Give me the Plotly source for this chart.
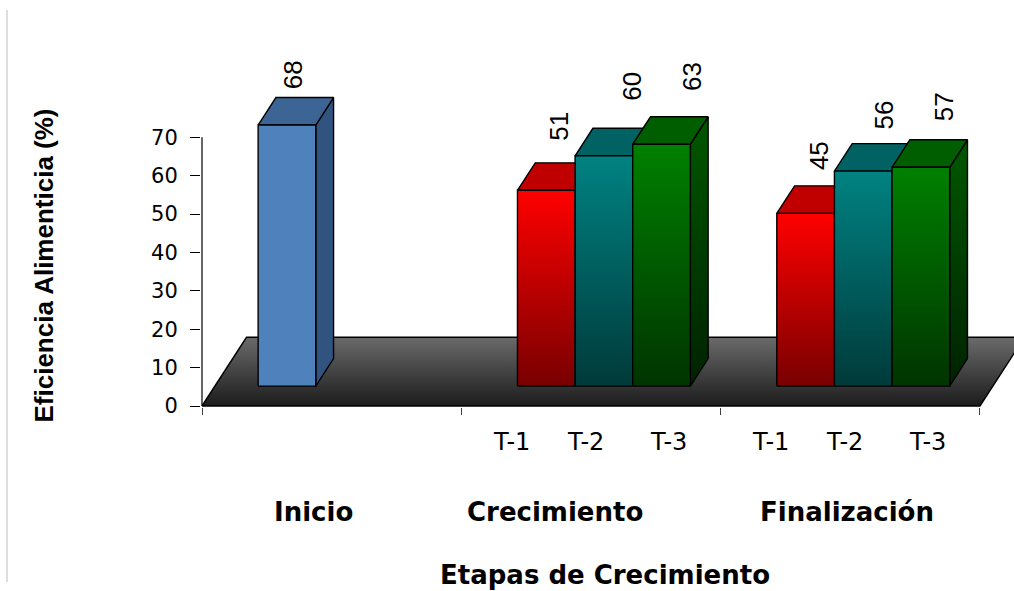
import plotly.graph_objects as go

# ---------------- data ----------------
categories = ["Inicio", "Crecimiento", "Finalización"]
series_names = ["T-1", "T-2", "T-3"]
t1_values = [68, 51, 45]
t2_values = [None, 60, 56]
t3_values = [None, 63, 57]
y_ticks = [0, 10, 20, 30, 40, 50, 60, 70]
x_title = "Etapas de Crecimiento"
y_title = "Eficiencia Alimenticia (%)"

# ---------------- geometry / styles ----------------
W, H = 1014, 591
L, B = 201, 184
PX_X = 259.33          # pixels per category unit
PX_Y = 3.8386          # pixels per value unit
DEPTH_X = 44.5 / PX_X  # floor depth (oblique projection)
DEPTH_Y = 68.7 / PX_Y
BAR_W = 1 / 4.5        # gap width 150 %
F_FRONT, F_BACK = 0.29, 0.69
DDX = (F_BACK - F_FRONT) * DEPTH_X
DDY = (F_BACK - F_FRONT) * DEPTH_Y
BASE = F_FRONT * DEPTH_Y

def xpp(p):  # pixel -> paper x
    return (p - L) / (W - L)

def ypp(p):  # pixel -> paper y
    return (H - B - p) / (H - B)

styles = {
    "T-1": dict(front=("#780000", "#FF0000"), side=("#4a0000", "#900000"), top="#C00000"),
    "T-2": dict(front=("#003A3A", "#008282"), side=("#002626", "#005050"), top="#006262"),
    "T-3": dict(front=("#003400", "#008000"), side=("#002200", "#005800"), top="#005E00"),
}
inicio_style = dict(front=("#4F81BD", "#4F81BD"), side=("#30537F", "#30537F"), top="#3C6494")

fig = go.Figure()

def poly(xs, ys, color=None, grad=None):
    xs = list(xs) + [xs[0]]
    ys = list(ys) + [ys[0]]
    kw = dict(x=xs, y=ys, mode="lines", fill="toself",
              line=dict(color="black", width=1.4), hoverinfo="skip", showlegend=False)
    if grad is not None:
        lo, hi, c0, c1 = grad
        kw["fillgradient"] = dict(type="vertical", colorscale=[[0, c0], [1, c1]], start=lo, stop=hi)
        kw["fillcolor"] = c1
    else:
        kw["fillcolor"] = color
    fig.add_trace(go.Scatter(**kw))

# floor
poly([0, 3, 3 + DEPTH_X, DEPTH_X], [0, 0, DEPTH_Y, DEPTH_Y],
     grad=(0, DEPTH_Y, "#1c1c1c", "#6a6a6a"))

# y axis line
fig.add_trace(go.Scatter(x=[0, 0], y=[0, y_ticks[-1]], mode="lines",
                         line=dict(color="black", width=1.2), hoverinfo="skip", showlegend=False))

all_series = [t1_values, t2_values, t3_values]
annotations = []
label_shift = {(0, 0): (-3, 37), (1, 0): (3, 50), (1, 1): (19, 56), (1, 2): (21, 54),
               (2, 0): (4, 44), (2, 1): (12, 42), (2, 2): (14, 47)}

for ci in range(len(categories)):
    for si, vals in enumerate(all_series):
        v = vals[ci]
        if v is None:
            continue
        st = inicio_style if ci == 0 else styles[series_names[si]]
        x0 = ci + 0.75 * BAR_W + si * BAR_W + F_FRONT * DEPTH_X
        x1 = x0 + BAR_W
        y0 = BASE
        y1 = BASE + v
        # side
        poly([x1, x1 + DDX, x1 + DDX, x1], [y0, y0 + DDY, y1 + DDY, y1],
             grad=(y0, y1 + DDY, st["side"][0], st["side"][1]))
        # top
        poly([x0, x1, x1 + DDX, x0 + DDX], [y1, y1, y1 + DDY, y1 + DDY], color=st["top"])
        # front
        poly([x0, x1, x1, x0], [y0, y0, y1, y1], grad=(y0, y1, st["front"][0], st["front"][1]))
        sx, sy = label_shift[(ci, si)]
        annotations.append(dict(x=(x0 + x1) / 2 + DDX / 2, y=y1 + DDY / 2, xref="x", yref="y",
                                text=str(v), showarrow=False, textangle=-90,
                                xanchor="center", yanchor="middle",
                                xshift=sx, yshift=sy,
                                font=dict(family="Liberation Sans, Arial", size=26, color="black")))

# series tick labels (T-1, T-2, T-3) under the two grouped stages
t_offsets = [0.194, 0.478, 0.798]
for ci in (1, 2):
    for si, name in enumerate(series_names):
        annotations.append(dict(x=xpp(202 + (ci + t_offsets[si]) * PX_X), y=ypp(441.7),
                                xref="paper", yref="paper", xanchor="center", yanchor="middle",
                                text=name, showarrow=False,
                                font=dict(family="DejaVu Sans", size=24, color="black")))

# category labels
cat_px = [313.3, 555, 846.7]
for name, p in zip(categories, cat_px):
    annotations.append(dict(x=xpp(p), y=ypp(511.7), xref="paper", yref="paper", text=name,
                            xanchor="center", yanchor="middle", showarrow=False,
                            font=dict(family="DejaVu Sans", size=26, color="black", weight="bold")))

# axis titles
annotations.append(dict(x=xpp(605), y=ypp(575), xref="paper", yref="paper", text=x_title,
                        xanchor="center", yanchor="middle", showarrow=False,
                        font=dict(family="DejaVu Sans", size=26, color="black", weight="bold")))
annotations.append(dict(x=xpp(43), y=ypp(265.5), xref="paper", yref="paper", text=y_title,
                        xanchor="center", yanchor="middle", showarrow=False, textangle=-90,
                        font=dict(family="Liberation Sans, Arial", size=26, color="black", weight="bold")))

fig.update_layout(
    width=W, height=H,
    margin=dict(l=L, r=0, t=0, b=B, pad=0),
    paper_bgcolor="white", plot_bgcolor="rgba(0,0,0,0)",
    showlegend=False,
    annotations=annotations,
    shapes=[dict(type="line", xref="paper", yref="paper",
                 x0=xpp(7), x1=xpp(7), y0=ypp(10), y1=ypp(582),
                 line=dict(color="#c8c8c8", width=1.2))],
)
fig.update_xaxes(range=[-1 / PX_X, (W - L - 1) / PX_X], showgrid=False, zeroline=False,
                 showline=False, tickvals=[0, 1, 2, 3], ticktext=["", "", "", ""],
                 ticks="outside", ticklen=7, tickcolor="#404040", tickwidth=1.2,
                 fixedrange=True)
fig.update_yaxes(range=[-1 / PX_Y, (H - B - 1) / PX_Y], showgrid=False, zeroline=False,
                 showline=False, tickvals=y_ticks, ticks="outside", ticklen=10,
                 tickcolor="black", tickwidth=1.2, ticklabelstandoff=8,
                 tickfont=dict(family="DejaVu Sans", size=21, color="black"),
                 fixedrange=True)

fig.write_html("out.html")
